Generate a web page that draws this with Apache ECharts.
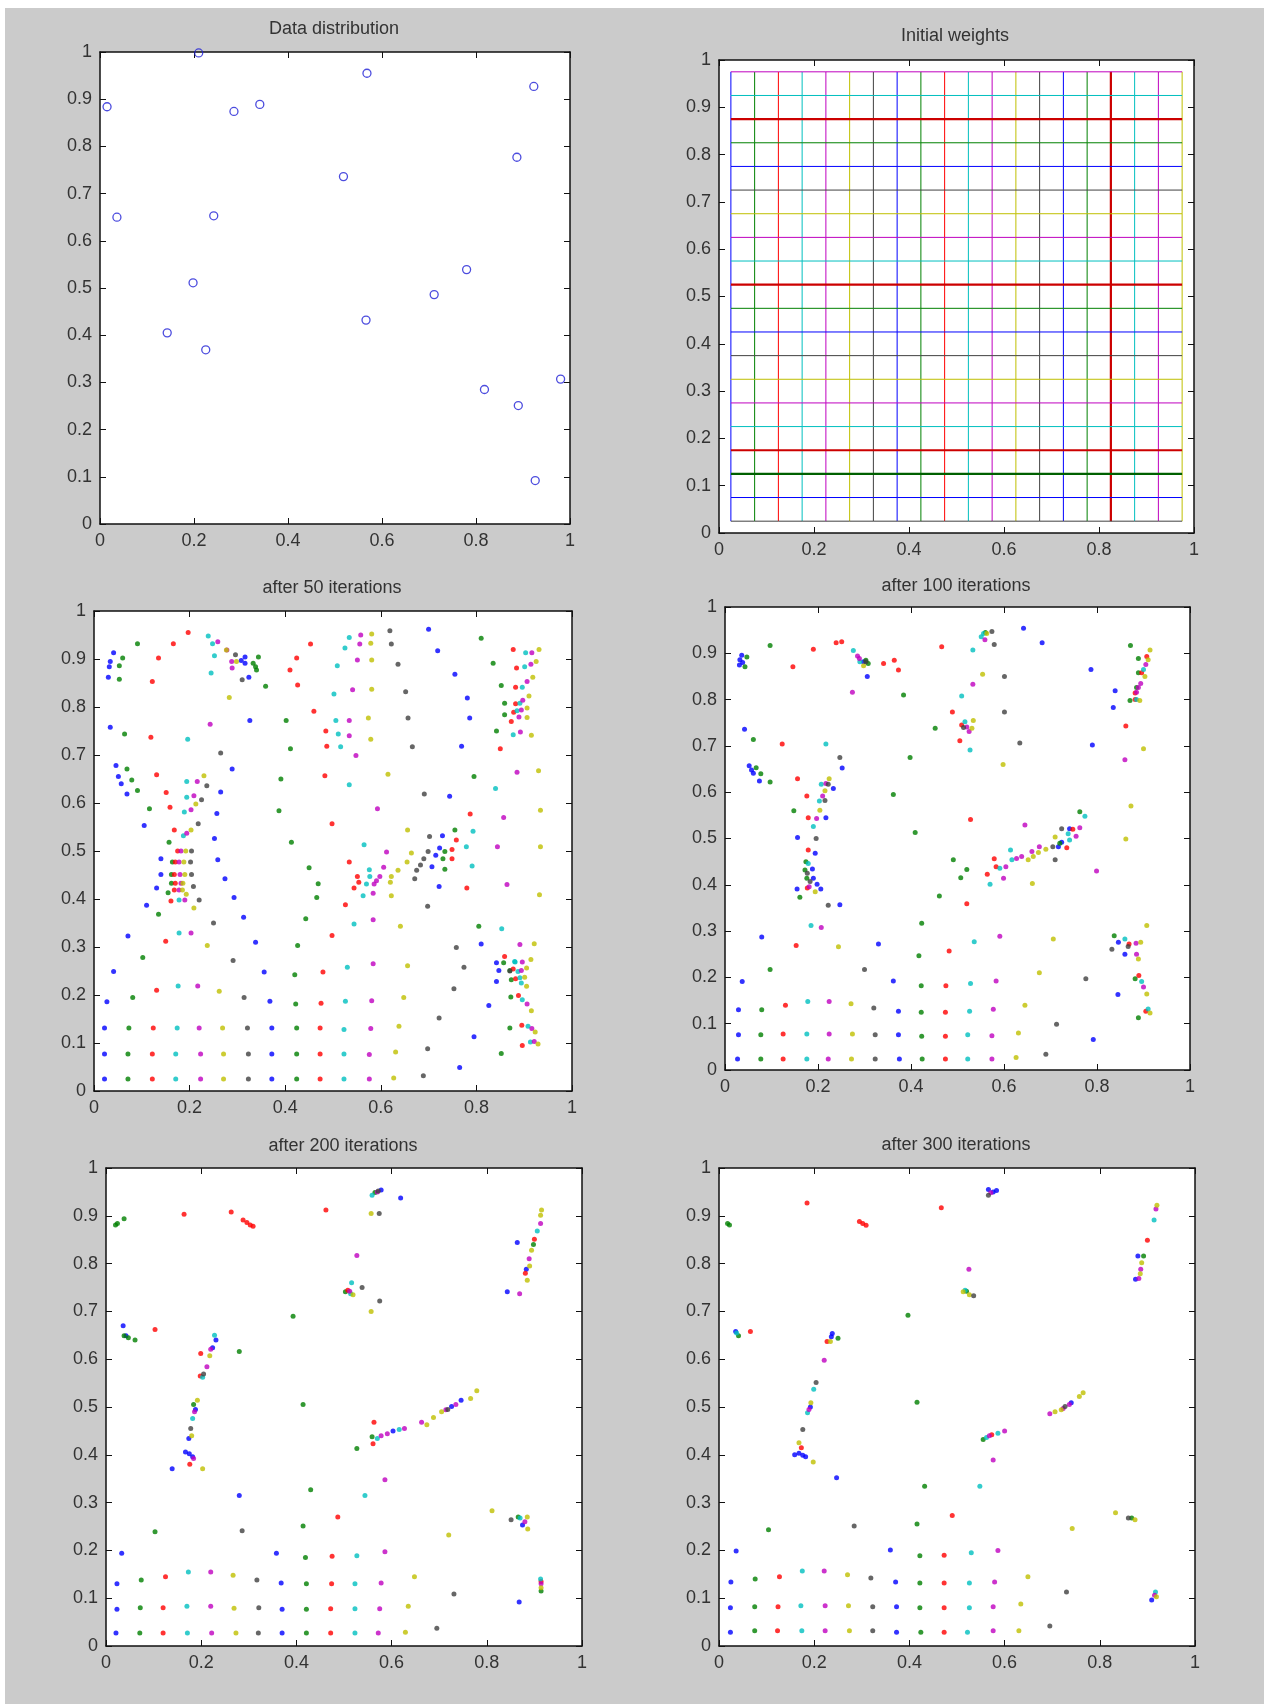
<!DOCTYPE html>
<html><head><meta charset="utf-8">
<script src="https://cdn.jsdelivr.net/npm/echarts/dist/echarts.min.js"></script>
<style>html,body{margin:0;padding:0;background:#fff}#c{width:1264px;height:1704px}</style>
</head><body><div id="c"></div><script>
// ---------------- DATA ----------------
const panelTitles = ['Data distribution','Initial weights','after 50 iterations','after 100 iterations','after 200 iterations','after 300 iterations'];
const xTicks = [0,0.2,0.4,0.6,0.8,1];
const yTicks = [0,0.1,0.2,0.3,0.4,0.5,0.6,0.7,0.8,0.9,1];
const colorNames = ['blue','green','red','cyan','magenta','yellow','black'];

const samples = [[0.015,0.884],[0.036,0.650],[0.210,0.998],[0.285,0.874],[0.340,0.889],[0.242,0.653],[0.198,0.511],[0.143,0.405],[0.225,0.369],[0.568,0.955],[0.518,0.736],[0.566,0.432],[0.711,0.486],[0.780,0.539],[0.887,0.777],[0.923,0.927],[0.818,0.285],[0.890,0.251],[0.980,0.307],[0.926,0.092]];

const nodeGrid = [0.025,0.075,0.125,0.175,0.225,0.275,0.325,0.375,0.425,0.475,0.525,0.575,0.625,0.675,0.725,0.775,0.825,0.875,0.925,0.975];

const it50_blue = [[0.041,0.913],[0.034,0.895],[0.032,0.884],[0.030,0.862],[0.316,0.904],[0.316,0.891],[0.308,0.897],[0.324,0.862],[0.326,0.772],[0.700,0.962],[0.719,0.917],[0.755,0.868],[0.781,0.819],[0.786,0.777],[0.769,0.718],[0.034,0.758],[0.046,0.678],[0.051,0.655],[0.057,0.640],[0.069,0.619],[0.105,0.553],[0.289,0.671],[0.265,0.623],[0.257,0.578],[0.252,0.526],[0.744,0.614],[0.729,0.532],[0.723,0.506],[0.715,0.491],[0.707,0.467],[0.722,0.426],[0.140,0.484],[0.140,0.451],[0.131,0.423],[0.110,0.387],[0.259,0.482],[0.274,0.442],[0.293,0.403],[0.313,0.362],[0.338,0.310],[0.356,0.248],[0.071,0.323],[0.041,0.249],[0.027,0.186],[0.368,0.187],[0.022,0.131],[0.372,0.131],[0.022,0.077],[0.372,0.077],[0.022,0.025],[0.372,0.025],[0.765,0.049],[0.795,0.113],[0.826,0.178],[0.810,0.306],[0.842,0.267],[0.847,0.251],[0.842,0.228]];
const it50_green = [[0.060,0.902],[0.053,0.886],[0.053,0.858],[0.091,0.932],[0.333,0.891],[0.338,0.884],[0.344,0.904],[0.340,0.877],[0.359,0.843],[0.402,0.772],[0.411,0.713],[0.810,0.943],[0.835,0.891],[0.852,0.845],[0.859,0.808],[0.859,0.784],[0.842,0.750],[0.064,0.744],[0.069,0.671],[0.079,0.648],[0.091,0.626],[0.116,0.588],[0.157,0.518],[0.391,0.650],[0.387,0.584],[0.413,0.518],[0.795,0.655],[0.755,0.544],[0.730,0.484],[0.734,0.499],[0.734,0.462],[0.164,0.477],[0.162,0.451],[0.162,0.433],[0.155,0.413],[0.135,0.368],[0.450,0.465],[0.469,0.432],[0.466,0.403],[0.443,0.359],[0.426,0.303],[0.420,0.242],[0.102,0.278],[0.081,0.195],[0.422,0.181],[0.073,0.131],[0.424,0.131],[0.071,0.077],[0.424,0.077],[0.071,0.025],[0.424,0.025],[0.852,0.078],[0.870,0.131],[0.872,0.196],[0.805,0.343],[0.857,0.267],[0.870,0.251],[0.873,0.232]];
const it50_red = [[0.197,0.955],[0.166,0.932],[0.135,0.902],[0.122,0.853],[0.119,0.737],[0.410,0.877],[0.424,0.902],[0.453,0.931],[0.426,0.846],[0.460,0.791],[0.485,0.750],[0.487,0.718],[0.483,0.657],[0.498,0.557],[0.877,0.920],[0.884,0.881],[0.882,0.841],[0.882,0.807],[0.878,0.789],[0.873,0.770],[0.850,0.713],[0.131,0.659],[0.151,0.622],[0.159,0.591],[0.168,0.544],[0.787,0.577],[0.758,0.523],[0.749,0.484],[0.749,0.503],[0.175,0.500],[0.170,0.477],[0.168,0.451],[0.170,0.433],[0.168,0.419],[0.161,0.396],[0.150,0.312],[0.131,0.210],[0.534,0.477],[0.551,0.447],[0.554,0.435],[0.544,0.423],[0.526,0.388],[0.498,0.324],[0.479,0.248],[0.780,0.423],[0.475,0.183],[0.124,0.131],[0.473,0.131],[0.122,0.077],[0.473,0.077],[0.122,0.025],[0.473,0.025],[0.896,0.095],[0.895,0.137],[0.888,0.199],[0.859,0.280],[0.877,0.254],[0.882,0.234]];
const it50_cyan = [[0.239,0.948],[0.248,0.932],[0.252,0.907],[0.245,0.871],[0.196,0.733],[0.534,0.945],[0.525,0.923],[0.509,0.886],[0.502,0.827],[0.506,0.772],[0.511,0.744],[0.516,0.717],[0.534,0.638],[0.903,0.913],[0.901,0.884],[0.896,0.841],[0.891,0.808],[0.885,0.792],[0.877,0.742],[0.840,0.630],[0.793,0.541],[0.779,0.509],[0.791,0.469],[0.194,0.645],[0.194,0.612],[0.189,0.581],[0.187,0.532],[0.565,0.513],[0.576,0.461],[0.577,0.447],[0.570,0.431],[0.563,0.407],[0.544,0.348],[0.530,0.258],[0.178,0.398],[0.178,0.329],[0.176,0.219],[0.174,0.131],[0.171,0.077],[0.171,0.025],[0.526,0.187],[0.523,0.128],[0.523,0.077],[0.523,0.025],[0.913,0.102],[0.908,0.135],[0.896,0.190],[0.881,0.269],[0.887,0.249],[0.891,0.236],[0.894,0.225],[0.880,0.270],[0.853,0.338]];
const it50_magenta = [[0.259,0.936],[0.278,0.919],[0.288,0.895],[0.289,0.881],[0.243,0.764],[0.558,0.950],[0.556,0.931],[0.551,0.898],[0.541,0.836],[0.534,0.772],[0.534,0.740],[0.548,0.699],[0.916,0.913],[0.914,0.889],[0.906,0.853],[0.897,0.814],[0.894,0.794],[0.889,0.779],[0.892,0.748],[0.885,0.664],[0.857,0.570],[0.844,0.509],[0.216,0.645],[0.209,0.615],[0.203,0.586],[0.194,0.537],[0.593,0.588],[0.612,0.498],[0.606,0.466],[0.598,0.447],[0.591,0.438],[0.586,0.431],[0.584,0.412],[0.584,0.357],[0.584,0.265],[0.182,0.500],[0.178,0.477],[0.180,0.451],[0.182,0.433],[0.178,0.419],[0.190,0.398],[0.203,0.329],[0.217,0.219],[0.220,0.131],[0.223,0.077],[0.223,0.025],[0.581,0.188],[0.579,0.130],[0.576,0.076],[0.576,0.025],[0.864,0.430],[0.921,0.103],[0.916,0.130],[0.906,0.181],[0.896,0.269],[0.894,0.251],[0.891,0.305]];
const it50_yellow = [[0.283,0.820],[0.298,0.895],[0.277,0.919],[0.581,0.952],[0.579,0.933],[0.581,0.898],[0.581,0.837],[0.574,0.777],[0.579,0.733],[0.931,0.920],[0.925,0.895],[0.918,0.862],[0.910,0.823],[0.906,0.798],[0.906,0.778],[0.915,0.741],[0.930,0.667],[0.934,0.585],[0.934,0.509],[0.932,0.409],[0.230,0.657],[0.213,0.598],[0.203,0.544],[0.615,0.660],[0.656,0.544],[0.664,0.496],[0.655,0.477],[0.636,0.460],[0.622,0.447],[0.620,0.435],[0.622,0.407],[0.641,0.343],[0.656,0.261],[0.192,0.500],[0.188,0.477],[0.190,0.451],[0.186,0.433],[0.185,0.419],[0.193,0.410],[0.209,0.381],[0.237,0.303],[0.262,0.208],[0.269,0.131],[0.271,0.077],[0.271,0.025],[0.648,0.195],[0.638,0.135],[0.631,0.081],[0.627,0.027],[0.929,0.098],[0.923,0.123],[0.915,0.167],[0.914,0.274],[0.905,0.256],[0.901,0.237],[0.905,0.218],[0.921,0.307]];
const it50_black = [[0.296,0.909],[0.310,0.857],[0.265,0.704],[0.619,0.959],[0.622,0.931],[0.636,0.889],[0.652,0.832],[0.657,0.777],[0.666,0.717],[0.236,0.636],[0.225,0.607],[0.218,0.557],[0.691,0.619],[0.702,0.530],[0.699,0.499],[0.690,0.484],[0.683,0.471],[0.675,0.460],[0.671,0.442],[0.698,0.385],[0.204,0.500],[0.202,0.477],[0.204,0.451],[0.208,0.426],[0.220,0.398],[0.250,0.350],[0.291,0.272],[0.314,0.195],[0.321,0.131],[0.323,0.077],[0.323,0.025],[0.689,0.032],[0.698,0.088],[0.722,0.152],[0.753,0.213],[0.774,0.258],[0.758,0.299],[0.870,0.250]];

const it100_blue = [[0.036,0.896],[0.032,0.886],[0.031,0.875],[0.038,0.880],[0.298,0.882],[0.306,0.850],[0.642,0.954],[0.682,0.923],[0.787,0.865],[0.839,0.819],[0.835,0.783],[0.790,0.702],[0.042,0.736],[0.052,0.657],[0.057,0.648],[0.061,0.641],[0.074,0.624],[0.252,0.652],[0.233,0.608],[0.217,0.545],[0.741,0.521],[0.724,0.492],[0.717,0.482],[0.156,0.502],[0.194,0.468],[0.188,0.434],[0.190,0.414],[0.198,0.401],[0.155,0.391],[0.206,0.391],[0.247,0.357],[0.079,0.287],[0.330,0.272],[0.037,0.191],[0.362,0.192],[0.029,0.130],[0.373,0.127],[0.029,0.076],[0.373,0.076],[0.027,0.024],[0.375,0.024],[0.792,0.066],[0.845,0.163],[0.846,0.276],[0.860,0.250]];
const it100_green = [[0.047,0.892],[0.043,0.871],[0.097,0.917],[0.308,0.878],[0.303,0.885],[0.384,0.810],[0.560,0.945],[0.872,0.917],[0.889,0.889],[0.889,0.858],[0.885,0.826],[0.871,0.798],[0.061,0.714],[0.067,0.653],[0.077,0.640],[0.097,0.622],[0.398,0.675],[0.362,0.595],[0.148,0.560],[0.409,0.513],[0.763,0.558],[0.720,0.490],[0.174,0.450],[0.172,0.432],[0.176,0.414],[0.161,0.373],[0.452,0.738],[0.491,0.454],[0.507,0.415],[0.520,0.433],[0.461,0.376],[0.423,0.317],[0.417,0.247],[0.097,0.217],[0.422,0.182],[0.079,0.130],[0.422,0.125],[0.077,0.076],[0.423,0.073],[0.077,0.024],[0.424,0.024],[0.889,0.113],[0.882,0.197],[0.837,0.290]];
const it100_red = [[0.190,0.909],[0.146,0.871],[0.239,0.923],[0.251,0.925],[0.341,0.878],[0.364,0.885],[0.373,0.864],[0.466,0.914],[0.489,0.773],[0.509,0.745],[0.505,0.711],[0.907,0.893],[0.896,0.858],[0.882,0.814],[0.882,0.800],[0.862,0.743],[0.123,0.704],[0.156,0.629],[0.176,0.592],[0.179,0.545],[0.528,0.541],[0.748,0.520],[0.735,0.480],[0.179,0.475],[0.177,0.393],[0.579,0.456],[0.583,0.439],[0.564,0.423],[0.520,0.359],[0.482,0.257],[0.153,0.269],[0.475,0.182],[0.130,0.140],[0.474,0.125],[0.125,0.078],[0.474,0.073],[0.125,0.024],[0.474,0.024],[0.890,0.204],[0.905,0.127],[0.869,0.272]];
const it100_cyan = [[0.276,0.906],[0.290,0.882],[0.533,0.907],[0.551,0.936],[0.556,0.943],[0.509,0.808],[0.516,0.752],[0.527,0.691],[0.900,0.865],[0.885,0.800],[0.217,0.704],[0.207,0.617],[0.203,0.581],[0.190,0.526],[0.774,0.548],[0.738,0.510],[0.741,0.497],[0.179,0.446],[0.185,0.312],[0.591,0.436],[0.617,0.454],[0.614,0.475],[0.570,0.401],[0.536,0.277],[0.528,0.187],[0.178,0.148],[0.526,0.127],[0.176,0.078],[0.522,0.076],[0.176,0.024],[0.522,0.024],[0.896,0.191],[0.910,0.132],[0.860,0.283]];
const it100_magenta = [[0.285,0.894],[0.289,0.889],[0.274,0.816],[0.559,0.929],[0.533,0.833],[0.520,0.741],[0.525,0.731],[0.905,0.876],[0.894,0.835],[0.889,0.826],[0.885,0.816],[0.860,0.670],[0.217,0.619],[0.210,0.592],[0.197,0.543],[0.645,0.529],[0.763,0.523],[0.755,0.505],[0.181,0.396],[0.207,0.308],[0.604,0.439],[0.627,0.457],[0.638,0.461],[0.660,0.472],[0.676,0.482],[0.599,0.414],[0.591,0.289],[0.799,0.430],[0.583,0.192],[0.224,0.148],[0.577,0.131],[0.224,0.078],[0.574,0.074],[0.222,0.024],[0.574,0.024],[0.900,0.179],[0.884,0.274],[0.885,0.250]];
const it100_yellow = [[0.298,0.873],[0.563,0.943],[0.554,0.855],[0.534,0.755],[0.531,0.738],[0.914,0.907],[0.910,0.886],[0.903,0.850],[0.892,0.798],[0.900,0.694],[0.873,0.570],[0.862,0.499],[0.224,0.629],[0.215,0.603],[0.204,0.561],[0.598,0.660],[0.710,0.503],[0.194,0.385],[0.652,0.454],[0.663,0.461],[0.674,0.470],[0.690,0.477],[0.661,0.403],[0.244,0.266],[0.706,0.283],[0.676,0.210],[0.907,0.312],[0.271,0.143],[0.274,0.078],[0.272,0.024],[0.645,0.140],[0.631,0.080],[0.626,0.027],[0.907,0.164],[0.914,0.123],[0.894,0.276],[0.889,0.240]];
const it100_black = [[0.303,0.882],[0.574,0.947],[0.579,0.919],[0.601,0.850],[0.601,0.773],[0.513,0.740],[0.634,0.706],[0.247,0.675],[0.222,0.617],[0.215,0.582],[0.196,0.500],[0.724,0.521],[0.710,0.454],[0.705,0.482],[0.177,0.425],[0.183,0.407],[0.222,0.356],[0.300,0.217],[0.320,0.134],[0.323,0.076],[0.323,0.024],[0.776,0.197],[0.713,0.099],[0.690,0.034],[0.832,0.261],[0.867,0.267]];

const it200_blue = [[0.578,0.954],[0.619,0.937],[0.883,0.788],[0.864,0.844],[0.843,0.741],[0.036,0.670],[0.042,0.649],[0.231,0.640],[0.224,0.624],[0.188,0.495],[0.174,0.434],[0.167,0.406],[0.175,0.402],[0.182,0.396],[0.139,0.371],[0.603,0.450],[0.726,0.501],[0.746,0.514],[0.280,0.315],[0.033,0.194],[0.358,0.194],[0.023,0.130],[0.368,0.132],[0.023,0.077],[0.370,0.077],[0.021,0.027],[0.370,0.027],[0.868,0.092],[0.875,0.253]];
const it200_green = [[0.020,0.881],[0.024,0.884],[0.038,0.894],[0.565,0.949],[0.898,0.840],[0.503,0.741],[0.393,0.690],[0.038,0.649],[0.047,0.645],[0.061,0.640],[0.280,0.616],[0.184,0.505],[0.414,0.505],[0.527,0.413],[0.559,0.438],[0.430,0.327],[0.103,0.239],[0.414,0.251],[0.419,0.185],[0.074,0.138],[0.421,0.130],[0.072,0.080],[0.421,0.077],[0.071,0.027],[0.421,0.027],[0.914,0.115],[0.866,0.270]];
const it200_red = [[0.164,0.903],[0.263,0.908],[0.288,0.891],[0.296,0.886],[0.303,0.881],[0.309,0.878],[0.462,0.912],[0.900,0.851],[0.881,0.780],[0.508,0.744],[0.103,0.662],[0.199,0.612],[0.198,0.565],[0.176,0.380],[0.563,0.468],[0.561,0.423],[0.487,0.270],[0.475,0.188],[0.125,0.145],[0.474,0.130],[0.120,0.080],[0.472,0.078],[0.120,0.027],[0.472,0.027],[0.914,0.135]];
const it200_cyan = [[0.559,0.943],[0.906,0.868],[0.516,0.760],[0.514,0.737],[0.228,0.650],[0.203,0.562],[0.182,0.476],[0.570,0.434],[0.616,0.453],[0.544,0.315],[0.527,0.189],[0.173,0.155],[0.523,0.130],[0.170,0.083],[0.523,0.078],[0.171,0.027],[0.523,0.027],[0.913,0.140],[0.870,0.268]];
const it200_magenta = [[0.570,0.950],[0.913,0.884],[0.889,0.810],[0.869,0.737],[0.527,0.817],[0.512,0.742],[0.220,0.621],[0.212,0.584],[0.186,0.490],[0.184,0.392],[0.578,0.440],[0.591,0.444],[0.627,0.455],[0.663,0.468],[0.714,0.494],[0.735,0.505],[0.586,0.348],[0.586,0.197],[0.220,0.155],[0.578,0.132],[0.220,0.083],[0.575,0.078],[0.222,0.027],[0.572,0.027],[0.914,0.130],[0.880,0.260]];
const it200_yellow = [[0.915,0.912],[0.913,0.901],[0.894,0.828],[0.885,0.765],[0.890,0.795],[0.557,0.905],[0.519,0.735],[0.557,0.700],[0.218,0.607],[0.192,0.514],[0.180,0.440],[0.203,0.371],[0.674,0.463],[0.688,0.478],[0.705,0.490],[0.766,0.518],[0.779,0.534],[0.811,0.283],[0.720,0.232],[0.885,0.270],[0.886,0.245],[0.267,0.148],[0.648,0.145],[0.269,0.079],[0.635,0.083],[0.273,0.027],[0.629,0.029],[0.914,0.122]];
const it200_black = [[0.574,0.905],[0.538,0.750],[0.575,0.722],[0.572,0.952],[0.205,0.569],[0.178,0.455],[0.718,0.495],[0.286,0.241],[0.851,0.264],[0.317,0.138],[0.321,0.080],[0.320,0.027],[0.731,0.109],[0.695,0.037]];

const it300_blue = [[0.566,0.955],[0.576,0.950],[0.583,0.953],[0.880,0.816],[0.875,0.767],[0.035,0.658],[0.238,0.654],[0.236,0.647],[0.192,0.500],[0.168,0.403],[0.159,0.400],[0.176,0.399],[0.182,0.396],[0.247,0.352],[0.740,0.509],[0.036,0.199],[0.360,0.201],[0.025,0.134],[0.371,0.134],[0.024,0.080],[0.373,0.082],[0.024,0.029],[0.373,0.029],[0.909,0.096]];
const it300_green = [[0.018,0.884],[0.022,0.881],[0.892,0.816],[0.520,0.742],[0.397,0.692],[0.041,0.649],[0.250,0.644],[0.416,0.510],[0.555,0.432],[0.432,0.334],[0.416,0.255],[0.104,0.243],[0.422,0.189],[0.076,0.140],[0.422,0.132],[0.075,0.082],[0.422,0.080],[0.075,0.032],[0.424,0.029],[0.867,0.268]];
const it300_red = [[0.185,0.927],[0.295,0.888],[0.302,0.884],[0.309,0.880],[0.467,0.917],[0.900,0.849],[0.066,0.658],[0.227,0.637],[0.173,0.415],[0.573,0.442],[0.490,0.273],[0.473,0.190],[0.127,0.145],[0.473,0.132],[0.124,0.082],[0.473,0.080],[0.123,0.032],[0.473,0.029]];
const it300_cyan = [[0.914,0.891],[0.517,0.744],[0.037,0.655],[0.199,0.537],[0.186,0.488],[0.562,0.436],[0.586,0.445],[0.548,0.334],[0.530,0.195],[0.175,0.157],[0.526,0.132],[0.172,0.084],[0.526,0.080],[0.174,0.032],[0.522,0.029],[0.917,0.113]];
const it300_magenta = [[0.571,0.948],[0.918,0.914],[0.886,0.788],[0.882,0.769],[0.525,0.788],[0.221,0.598],[0.189,0.495],[0.568,0.440],[0.600,0.450],[0.576,0.389],[0.723,0.497],[0.736,0.505],[0.695,0.486],[0.586,0.200],[0.221,0.157],[0.579,0.134],[0.223,0.084],[0.576,0.082],[0.223,0.032],[0.576,0.032],[0.915,0.106]];
const it300_yellow = [[0.920,0.922],[0.888,0.802],[0.885,0.779],[0.513,0.741],[0.526,0.735],[0.234,0.637],[0.193,0.509],[0.168,0.425],[0.198,0.385],[0.706,0.490],[0.719,0.494],[0.757,0.522],[0.765,0.530],[0.833,0.279],[0.742,0.246],[0.874,0.264],[0.270,0.149],[0.649,0.145],[0.272,0.084],[0.634,0.088],[0.274,0.032],[0.630,0.032],[0.919,0.103]];
const it300_black = [[0.566,0.943],[0.535,0.733],[0.204,0.551],[0.176,0.453],[0.727,0.501],[0.284,0.251],[0.860,0.268],[0.319,0.142],[0.323,0.082],[0.323,0.032],[0.730,0.113],[0.695,0.042]];

// ---------------- STYLE / LAYOUT ----------------
const COLORS = {blue:'#0000ff',green:'#008000',red:'#ff0000',cyan:'#00bfbf',magenta:'#bf00bf',yellow:'#bfbf00',black:'#404040'};
const cycle = colorNames.map(n => COLORS[n]);
const layout = [
  {left:100, top:52,   width:470, height:472, tx:334, ty:29},
  {left:719, top:60,   width:475, height:473, tx:955, ty:36},
  {left:94,  top:611,  width:478, height:480, tx:332, ty:588},
  {left:725, top:607,  width:465, height:463, tx:956, ty:586},
  {left:106, top:1168, width:476, height:478, tx:343, ty:1146},
  {left:719, top:1168, width:476, height:478, tx:956, ty:1145}
];
const iterSets = [
  null, null,
  {blue:it50_blue,green:it50_green,red:it50_red,cyan:it50_cyan,magenta:it50_magenta,yellow:it50_yellow,black:it50_black},
  {blue:it100_blue,green:it100_green,red:it100_red,cyan:it100_cyan,magenta:it100_magenta,yellow:it100_yellow,black:it100_black},
  {blue:it200_blue,green:it200_green,red:it200_red,cyan:it200_cyan,magenta:it200_magenta,yellow:it200_yellow,black:it200_black},
  {blue:it300_blue,green:it300_green,red:it300_red,cyan:it300_cyan,magenta:it300_magenta,yellow:it300_yellow,black:it300_black}
];
const thickV = [16];          // emphasised vertical lines (index in nodeGrid)
const thickH = [2,3,10,17];   // emphasised horizontal lines
const FONT = "'Liberation Sans', Arial, Helvetica, sans-serif";
const TXT = '#333333';

const grids = [], xAxes = [], yAxes = [], series = [], graphics = [];
graphics.push({type:'rect', shape:{x:0,y:0,width:5,height:1704}, style:{fill:'#ffffff'}, silent:true});
graphics.push({type:'rect', shape:{x:0,y:0,width:1264,height:8}, style:{fill:'#ffffff'}, silent:true});

function axisBase(showLabel, interval, pos, gi){
  return {
    type:'value', min:0, max:1, interval:interval, gridIndex:gi, position:pos,
    axisLine:{show:true, onZero:false, lineStyle:{color:'#111', width:1.5}},
    axisTick:{show:true, inside:true, length:6, lineStyle:{color:'#111', width:1}},
    splitLine:{show:false},
    axisLabel:{show:showLabel, color:TXT, fontSize:18, fontFamily:FONT, margin:8,
      formatter: v => String(Math.round(v*10)/10)},
  };
}

layout.forEach((L, g) => {
  grids.push({left:L.left, top:L.top, width:L.width, height:L.height, show:true, backgroundColor:'#ffffff', borderWidth:0});
  xAxes.push(axisBase(true, 0.2, 'bottom', g));
  xAxes.push(axisBase(false, 0.2, 'top', g));
  yAxes.push(axisBase(true, 0.1, 'left', g));
  yAxes.push(axisBase(false, 0.1, 'right', g));
  graphics.push({type:'text', x:L.tx, y:L.ty, style:{text:panelTitles[g], fill:TXT, font:'18px ' + FONT, textAlign:'center', textVerticalAlign:'middle'}});
});

// panel 1: data distribution
series.push({type:'scatter', name:'data', xAxisIndex:0, yAxisIndex:0, data:samples,
  symbol:'circle', symbolSize:8, itemStyle:{color:'rgba(255,255,255,0)', borderColor:'#1f1fd6', borderWidth:1.3}});

// panel 2: initial weight grid
nodeGrid.forEach((gx, k) => {
  series.push({type:'line', xAxisIndex:2, yAxisIndex:2, showSymbol:false, symbol:'none',
    data: nodeGrid.map(gy => [gx, gy]),
    lineStyle:{color: thickV.includes(k) ? '#cc0000' : cycle[k % 7], width: thickV.includes(k) ? 2.2 : 1}});
});
nodeGrid.forEach((gy, k) => {
  const c = cycle[(20 + k) % 7];
  const thick = thickH.includes(k);
  series.push({type:'line', xAxisIndex:2, yAxisIndex:2, showSymbol:false, symbol:'none',
    data: nodeGrid.map(gx => [gx, gy]),
    lineStyle:{color: thick ? (c === '#ff0000' ? '#cc0000' : '#006000') : c, width: thick ? 2.2 : 1}});
});

// panels 3-6: SOM node positions
for (let g = 2; g < 6; g++) {
  colorNames.forEach(cn => {
    series.push({type:'scatter', name: panelTitles[g] + ' ' + cn, xAxisIndex:2*g, yAxisIndex:2*g,
      data: iterSets[g][cn], symbol:'circle', symbolSize:5, itemStyle:{color: COLORS[cn]}});
  });
}

const chart = echarts.init(document.getElementById('c'), null, {renderer:'canvas'});
chart.setOption({
  animation:false,
  backgroundColor:'#cbcbcb',
  grid:grids, xAxis:xAxes, yAxis:yAxes, series:series,
  graphic:{elements:graphics}
});
</script></body></html>
